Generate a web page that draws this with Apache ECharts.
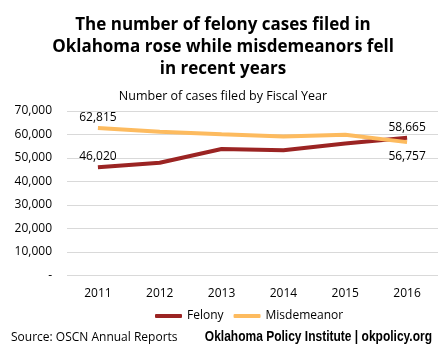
<!DOCTYPE html>
<html><head><meta charset="utf-8">
<script src="https://cdn.jsdelivr.net/npm/echarts@6/dist/echarts.min.js"></script>
<style>html,body{margin:0;padding:0;background:#fff}#c{width:446px;height:358px}</style>
</head><body><div id="c"></div>
<script>
const years = ['2011','2012','2013','2014','2015','2016'];
const felony = [46020, 48000, 53800, 53300, 56200, 58665];
const misdemeanor = [62815, 61200, 60100, 59100, 59900, 56757];
const yTicks = [0, 10000, 20000, 30000, 40000, 50000, 60000, 70000];

const fmt = v => v === 0 ? '-' : v.toLocaleString('en-US');
function withLabels(arr, lastPos) {
  return arr.map((v, i) => {
    if (i === 0) return {value: v, label: {show: true, position: 'top'}};
    if (i === arr.length - 1) return {value: v, label: {show: true, position: lastPos, distance: lastPos === 'top' ? 4 : 8}};
    return v;
  });
}
const font = '"Open Sans", sans-serif';
const chart = echarts.init(document.getElementById('c'));
chart.setOption({
  animation: false,
  title: [
    {text: 'The number of felony cases filed in\nOklahoma rose while misdemeanors fell\nin recent years',
     left: 'center', top: 9,
     textStyle: {fontFamily: font, fontWeight: 'bold', fontSize: 17, lineHeight: 22, color: '#000', align: 'center'}},
    {text: 'Number of cases filed by Fiscal Year', left: 'center', top: 85,
     textStyle: {fontFamily: font, fontWeight: 'normal', fontSize: 12.5, color: '#000'}}
  ],
  grid: {left: 67, right: 8, top: 111, bottom: 82.5},
  xAxis: {
    type: 'category', data: years, boundaryGap: true,
    axisLine: {show: false}, axisTick: {show: false},
    axisLabel: {fontFamily: font, fontSize: 12, color: '#000', margin: 12}
  },
  yAxis: {
    type: 'value', min: yTicks[0], max: yTicks[yTicks.length - 1], interval: 10000,
    axisLine: {show: false}, axisTick: {show: false},
    splitLine: {lineStyle: {color: '#d9d9d9', width: 1}},
    axisLabel: {fontFamily: font, fontSize: 12, color: '#000', margin: 15, formatter: fmt}
  },
  legend: {
    top: 305, left: 150, itemGap: 10, itemWidth: 27, itemHeight: 4,
    icon: 'roundRect',
    textStyle: {fontFamily: font, fontSize: 12, color: '#000'},
    data: ['Felony', 'Misdemeanor']
  },
  series: [
    {name: 'Felony', type: 'line', data: withLabels(felony, 'top'), symbol: 'circle', symbolSize: 0, showSymbol: true,
     lineStyle: {color: '#9b2423', width: 4}, itemStyle: {color: '#9b2423'},
     label: {fontFamily: font, fontSize: 12, color: '#000', formatter: p => fmt(p.value), distance: 5}},
    {name: 'Misdemeanor', type: 'line', data: withLabels(misdemeanor, 'bottom'), symbol: 'circle', symbolSize: 0, showSymbol: true,
     lineStyle: {color: '#fdbb5f', width: 4}, itemStyle: {color: '#fdbb5f'},
     label: {fontFamily: font, fontSize: 12, color: '#000', formatter: p => fmt(p.value), distance: 4}}
  ],
  graphic: [
    {type: 'text', left: 11, top: 332, style: {text: 'Source: OSCN Annual Reports', font: '12px ' + font, fill: '#000'}},
    {type: 'text', x: 432, y: 329, scaleX: 0.8, style: {text: 'Oklahoma Policy Institute | okpolicy.org', align: 'right', font: 'bold 15px "Liberation Sans Narrow", sans-serif', fill: '#000'}}
  ]
});
</script></body></html>
